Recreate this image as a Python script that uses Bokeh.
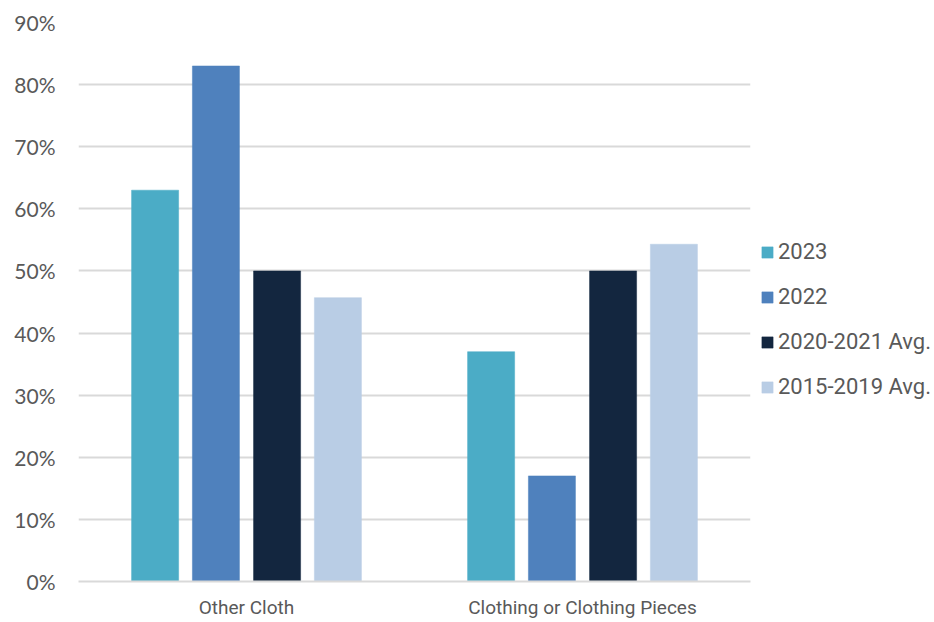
from bokeh.plotting import figure
from bokeh.models import (ColumnDataSource, FactorRange, FixedTicker, NumeralTickFormatter,
                          Legend, LegendItem, Range1d)
from bokeh.transform import dodge
from bokeh.embed import file_html
from bokeh.resources import INLINE

categories = ["Other Cloth", "Clothing or Clothing Pieces"]
series_names = ["2023", "2022", "2020-2021 Avg.", "2015-2019 Avg."]
v2023 = [0.63, 0.37]
v2022 = [0.83, 0.17]
v2020_2021 = [0.50, 0.50]
v2015_2019 = [0.457, 0.543]
colors = ["#4BACC6", "#4F81BD", "#13263F", "#B9CDE5"]
y_ticks = [0, 0.1, 0.2, 0.3, 0.4, 0.5, 0.6, 0.7, 0.8, 0.9]

source = ColumnDataSource(dict(cat=categories, s0=v2023, s1=v2022, s2=v2020_2021, s3=v2015_2019))

p = figure(x_range=FactorRange(*categories), y_range=Range1d(0, 0.9),
           frame_width=672, frame_height=559, output_backend="svg", toolbar_location=None,
           min_border_left=78, min_border_top=22, min_border_bottom=0, min_border_right=0)
p.outline_line_color = None
p.x_range.range_padding = 0

offsets = [-0.272, -0.091, 0.091, 0.272]
items = []
for i, (name, col) in enumerate(zip(series_names, colors)):
    r = p.vbar(x=dodge("cat", offsets[i], range=p.x_range), top=f"s{i}", width=0.14,
               source=source, fill_color=col, line_color=col, line_width=0.5)
    items.append(LegendItem(label=name, renderers=[r]))

legend = Legend(items=items, location=(10, 182), orientation="vertical",
                label_text_font="Roboto", label_text_font_size="22px",
                label_text_color="#595959", glyph_width=14, glyph_height=14,
                label_standoff=4, spacing=20, border_line_color=None,
                background_fill_alpha=0, padding=0, margin=0)
p.add_layout(legend, "right")

p.yaxis.ticker = FixedTicker(ticks=y_ticks)
p.yaxis.formatter = NumeralTickFormatter(format="0%")
p.yaxis.axis_line_color = None
p.yaxis.major_tick_line_color = None
p.yaxis.minor_tick_line_color = None
p.yaxis.major_label_text_font = "Lato"
p.yaxis.major_label_text_font_size = "21px"
p.yaxis.major_label_text_color = "#595959"
p.yaxis.major_label_standoff = 17

p.xaxis.axis_line_color = "#D9D9D9"
p.xaxis.axis_line_width = 2
p.xaxis.major_tick_line_color = None
p.xaxis.minor_tick_line_color = None
p.xaxis.major_label_text_font = "Roboto"
p.xaxis.major_label_text_font_size = "19px"
p.xaxis.major_label_text_color = "#595959"
p.xaxis.major_label_standoff = 8

p.xgrid.grid_line_color = None
p.ygrid.grid_line_color = "#D9D9D9"
p.ygrid.grid_line_width = 2
p.ygrid.ticker = FixedTicker(ticks=y_ticks)

open("out.html", "w").write(file_html(p, INLINE))
